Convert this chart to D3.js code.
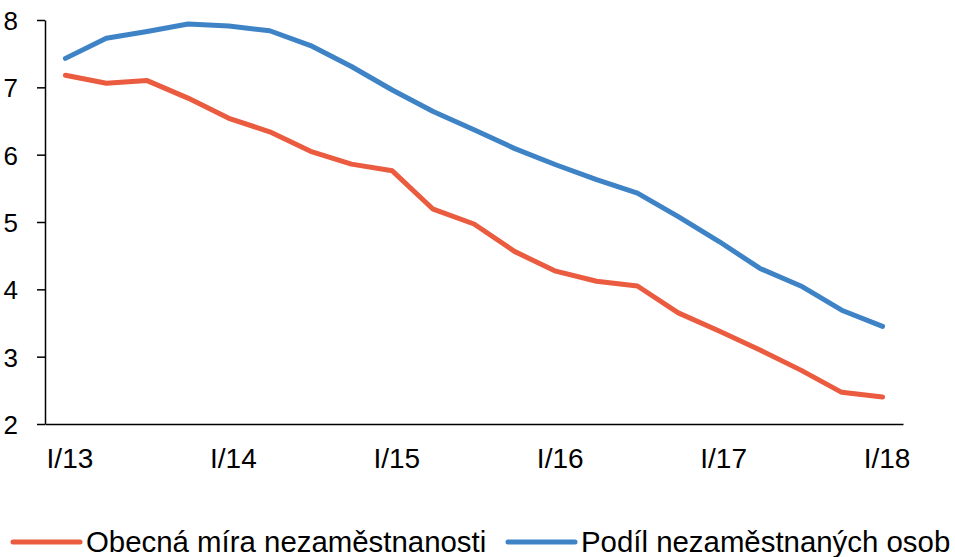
<!DOCTYPE html>
<html>
<head>
<meta charset="utf-8">
<script src="https://cdn.jsdelivr.net/npm/d3@7"></script>
<style>
  body { margin: 0; background: #fff; }
  svg text { font-family: "Liberation Sans", Arial, sans-serif; fill: #000; }
</style>
</head>
<body>
<svg id="chart" width="955" height="557"></svg>
<script>
// quarters I/13 .. I/18
var quarters = ["I/13","II/13","III/13","IV/13",
                "I/14","II/14","III/14","IV/14",
                "I/15","II/15","III/15","IV/15",
                "I/16","II/16","III/16","IV/16",
                "I/17","II/17","III/17","IV/17",
                "I/18"];
// Obecná míra nezaměstnanosti
var obecna = [7.18,7.06,7.10,6.84,6.54,6.34,6.05,5.86,5.76,5.19,4.97,4.56,4.27,4.12,4.05,3.65,3.38,3.10,2.80,2.47,2.40];
// Podíl nezaměstnaných osob
var podil = [7.43,7.73,7.83,7.94,7.91,7.84,7.62,7.31,6.96,6.64,6.37,6.09,5.85,5.63,5.43,5.08,4.71,4.31,4.05,3.69,3.45];
var yTicks = [2,3,4,5,6,7,8];
var seriesNames = ["Obecná míra nezaměstnanosti","Podíl nezaměstnaných osob"];
var seriesColors = ["#ea5b3f","#3d83c6"];

var svg = d3.select("#chart");
var plotLeft = 45, plotRight = 903, plotTop = 20, plotBottom = 424;

var x = d3.scaleBand().domain(quarters).range([plotLeft, plotRight]);
var y = d3.scaleLinear().domain([2, 8]).range([plotBottom, plotTop]);

function cx(d) { return x(d) + x.bandwidth()/2; }

// y axis
var yAxis = svg.append("g")
    .attr("transform", "translate(" + plotLeft + ",0)")
    .call(d3.axisLeft(y).tickValues(yTicks).tickSize(8).tickSizeOuter(0).tickPadding(19).tickFormat(d3.format("d")));
yAxis.select(".domain").attr("stroke", "#000").attr("stroke-width", 1.5);
yAxis.selectAll(".tick line").attr("stroke", "#000").attr("stroke-width", 1.5);
yAxis.selectAll("text").style("font-size", "26px").attr("dy", "0.36em");

// x axis
var xAxis = svg.append("g")
    .attr("transform", "translate(0," + plotBottom + ")")
    .call(d3.axisBottom(x).tickSize(0).tickSizeOuter(0).tickPadding(24)
        .tickFormat(function(d) { return d.indexOf("I/") === 0 ? d : ""; }));
xAxis.select(".domain").attr("stroke", "#000").attr("stroke-width", 1.5);
xAxis.selectAll("text").style("font-size", "28px").attr("dx", 4.5);

// lines
var line = d3.line()
    .x(function(d, i) { return cx(quarters[i]); })
    .y(function(d) { return y(d); });

[obecna, podil].forEach(function(s, k) {
    svg.append("path")
        .datum(s)
        .attr("d", line)
        .attr("fill", "none")
        .attr("stroke", seriesColors[k])
        .attr("stroke-width", 5)
        .attr("stroke-linejoin", "round")
        .attr("stroke-linecap", "round");
});

// legend
var legendX = [13, 508];
var legend = svg.append("g");
seriesNames.forEach(function(name, k) {
    legend.append("line")
        .attr("x1", legendX[k]).attr("x2", legendX[k] + 67)
        .attr("y1", 542).attr("y2", 542)
        .attr("stroke", seriesColors[k])
        .attr("stroke-width", 5)
        .attr("stroke-linecap", "round");
    legend.append("text")
        .attr("x", legendX[k] + 73)
        .attr("y", 552)
        .style("font-size", "29.4px")
        .text(name);
});
</script>
</body>
</html>
